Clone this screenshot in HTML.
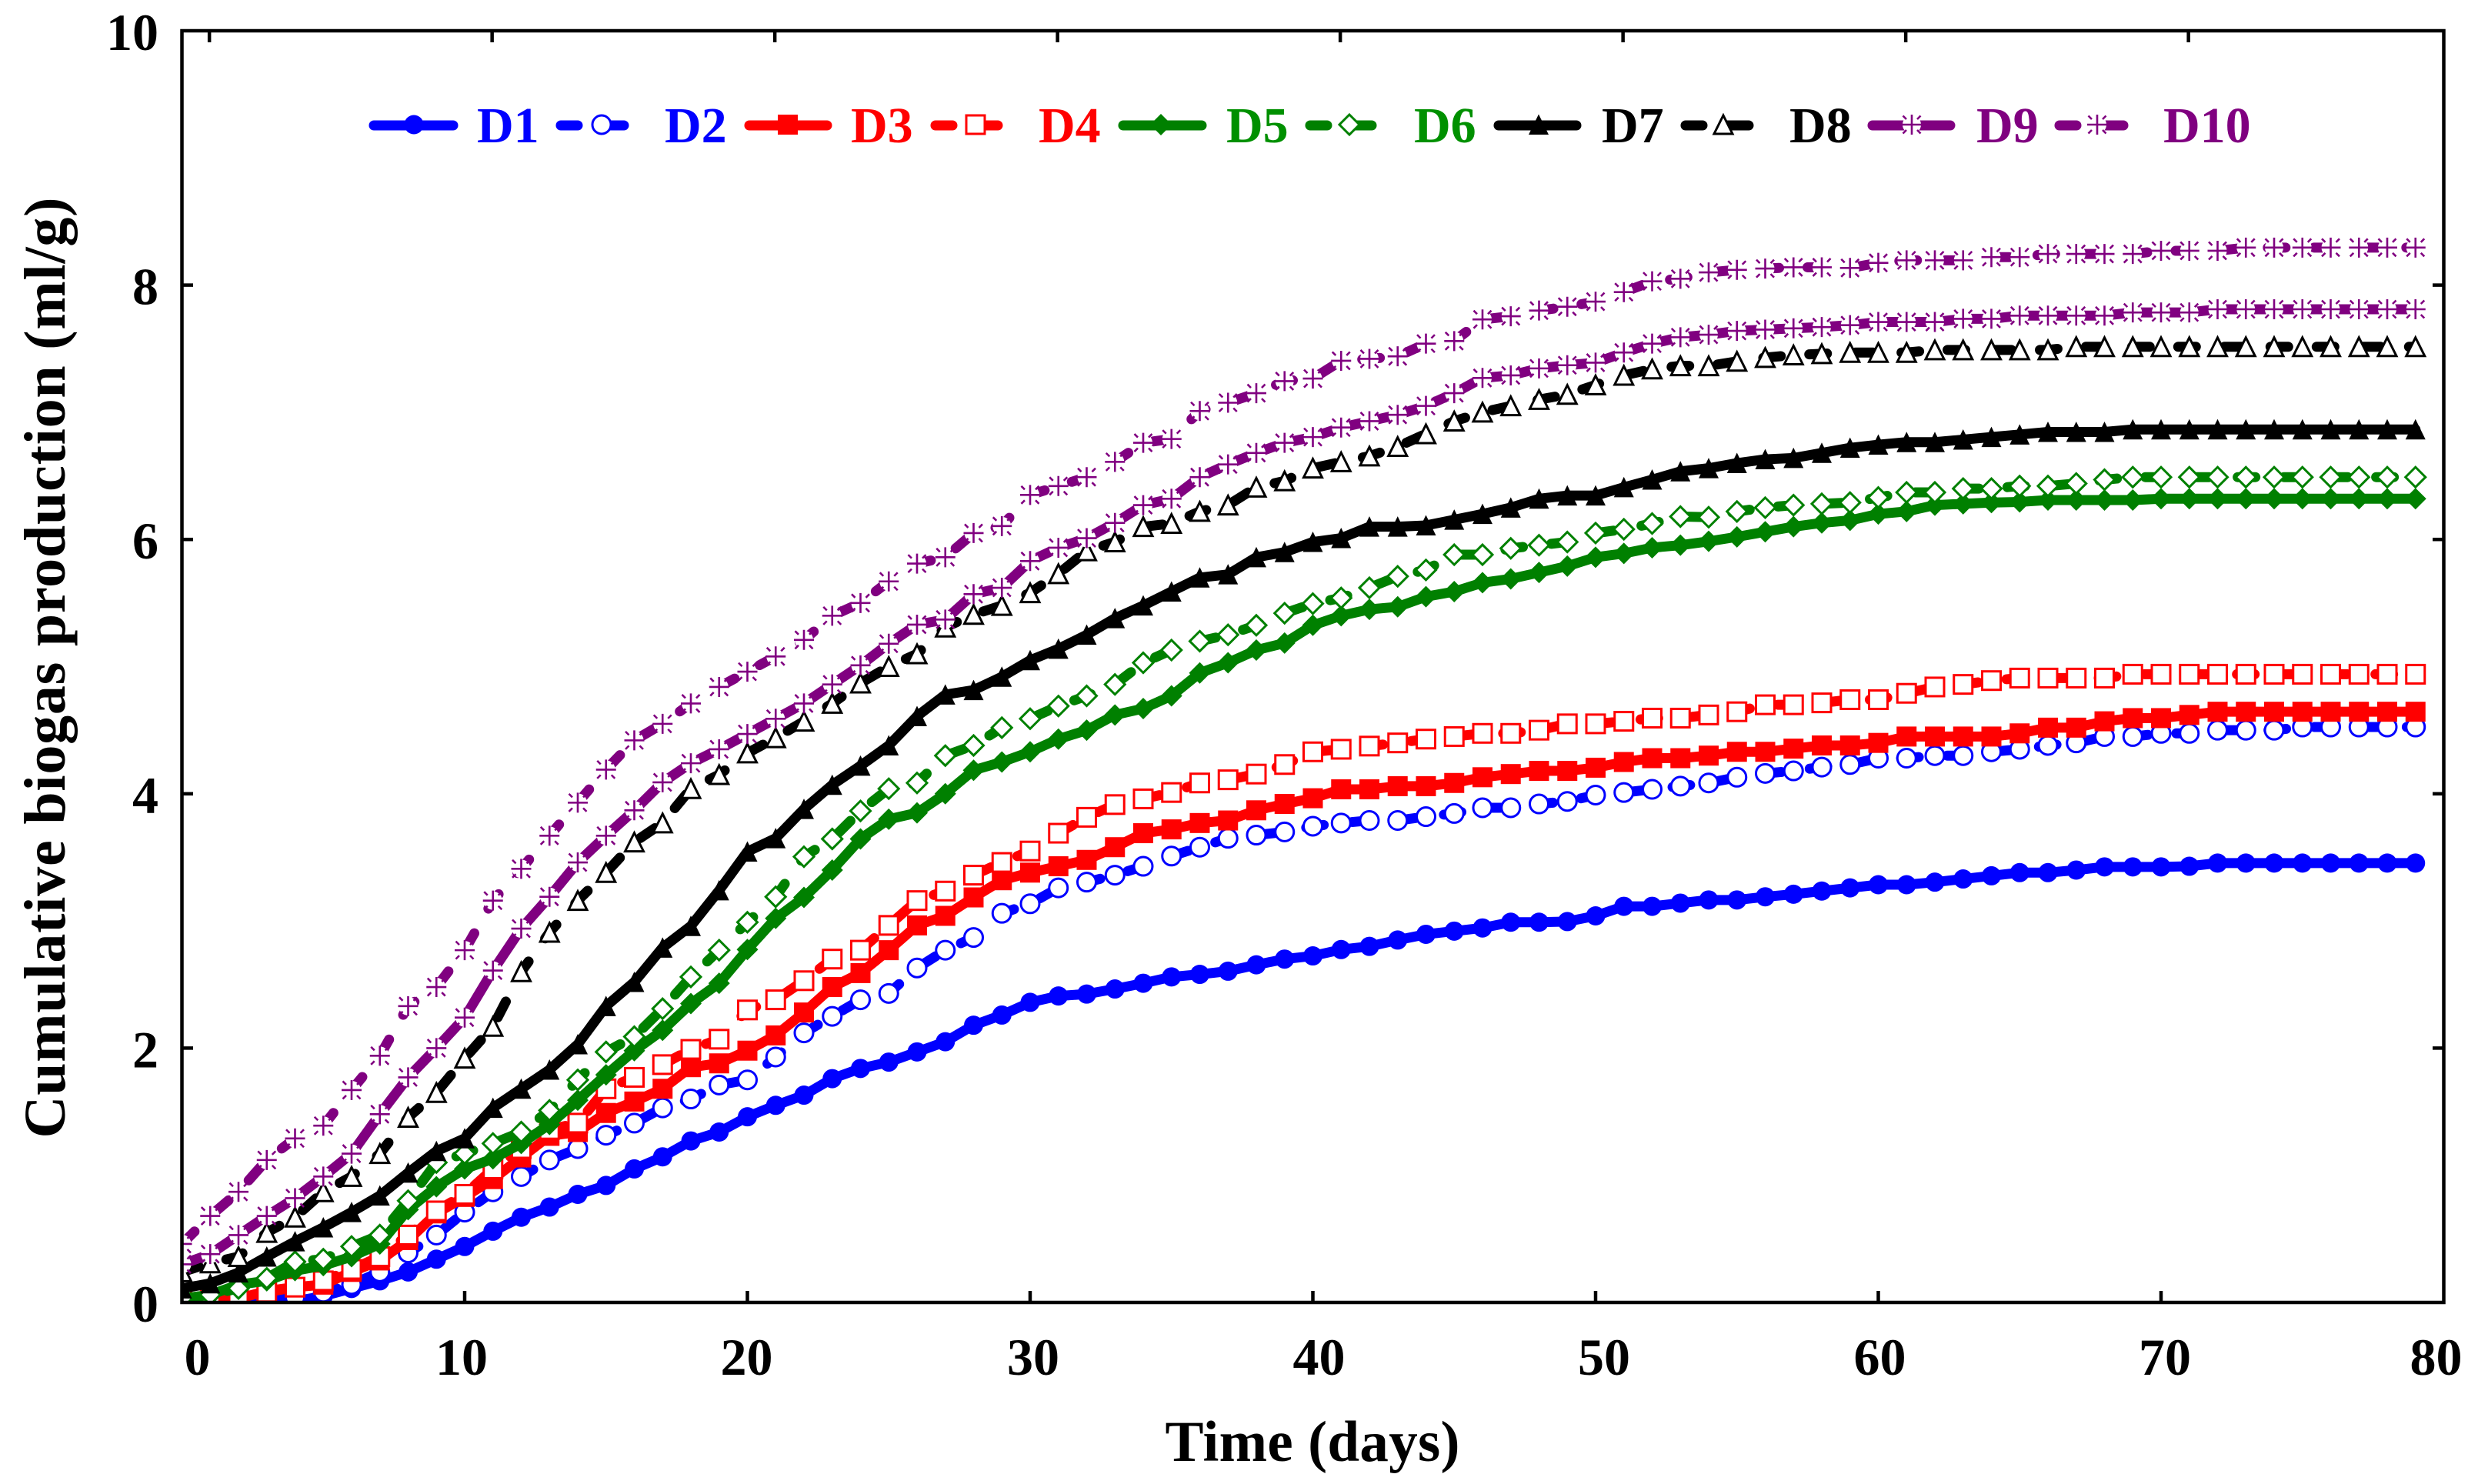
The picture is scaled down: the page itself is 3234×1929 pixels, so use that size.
<!DOCTYPE html>
<html lang="en">
<head>
<meta charset="utf-8">
<title>Cumulative biogas production</title>
<style>
html,body{margin:0;padding:0;background:#fff}
svg{display:block}
text{font-family:"Liberation Serif",serif;font-weight:bold}
</style>
</head>
<body>
<svg id="chart" xmlns="http://www.w3.org/2000/svg" width="3234" height="1929" viewBox="0 0 3234 1929">
<defs><clipPath id="plot-clip"><rect x="236" y="40" width="2941" height="1655"/></clipPath></defs>
<rect x="0" y="0" width="3234" height="1929" fill="#fff"/>
<g id="series-layer" clip-path="url(#plot-clip)"></g>
<g id="axes-layer"></g>
<g id="legend-layer"></g>
<text transform="translate(84,868) rotate(-90)" text-anchor="middle" font-size="76" textLength="1223" lengthAdjust="spacing" fill="#000">Cumulative biogas production (ml/g)</text>
<text x="1706" y="1899" text-anchor="middle" font-size="75" textLength="383" lengthAdjust="spacing" fill="#000">Time (days)</text>
</svg>
<script>
const days = [0,1,2,3,4,5,6,7,8,9,10,11,12,13,14,15,16,17,18,19,20,21,22,23,24,25,26,27,28,29,30,31,32,33,34,35,36,37,38,39,40,41,42,43,44,45,46,47,48,49,50,51,52,53,54,55,56,57,58,59,60,61,62,63,64,65,66,67,68,69,70,71,72,73,74,75,76,77,78,79];
const xTicks = [0,10,20,30,40,50,60,70,80];
const yTicks = [0,2,4,6,8,10];
const seriesNames = ["D1","D2","D3","D4","D5","D6","D7","D8","D9","D10"];
const d1 = [0,0,0,.005,.01,.05,.11,.17,.24,.34,
.44,.56,.67,.75,.85,.92,1.05,1.145,1.27,1.34,
1.46,1.55,1.63,1.76,1.84,1.89,1.97,2.05,2.18,2.26,
2.36,2.41,2.425,2.465,2.51,2.56,2.58,2.605,2.655,2.70,
2.725,2.775,2.80,2.85,2.895,2.92,2.945,2.99,2.99,2.995,
3.04,3.115,3.115,3.14,3.165,3.165,3.19,3.21,3.235,3.26,
3.285,3.285,3.305,3.33,3.355,3.38,3.38,3.40,3.425,3.425,
3.425,3.43,3.455,3.455,3.455,3.455,3.455,3.455,3.455,3.455];
const d2 = [0,0,.01,.02,.04,.08,.14,.24,.39,.53,
.71,.87,.99,1.12,1.21,1.315,1.41,1.53,1.60,1.71,
1.75,1.93,2.12,2.25,2.38,2.43,2.63,2.77,2.87,3.06,
3.135,3.26,3.305,3.36,3.43,3.51,3.58,3.65,3.675,3.70,
3.745,3.77,3.79,3.79,3.82,3.845,3.89,3.89,3.92,3.94,
3.99,4.01,4.035,4.06,4.085,4.13,4.16,4.18,4.21,4.23,
4.28,4.28,4.30,4.30,4.33,4.35,4.38,4.40,4.45,4.45,
4.475,4.475,4.50,4.50,4.50,4.525,4.525,4.525,4.525,4.525];
const d3 = [0,.01,.03,.09,.12,.14,.24,.33,.49,.70,
.83,.97,1.14,1.31,1.34,1.49,1.58,1.68,1.85,1.88,
1.98,2.10,2.28,2.48,2.59,2.77,2.965,3.04,3.185,3.32,
3.38,3.43,3.48,3.58,3.69,3.72,3.77,3.79,3.87,3.92,
3.965,4.035,4.035,4.06,4.06,4.085,4.13,4.155,4.18,4.18,
4.205,4.25,4.28,4.28,4.30,4.33,4.33,4.355,4.38,4.38,
4.40,4.45,4.45,4.45,4.45,4.475,4.52,4.52,4.57,4.595,
4.595,4.62,4.645,4.645,4.645,4.645,4.645,4.645,4.645,4.645];
const d4 = [.02,.03,.05,.08,.12,.17,.26,.36,.53,.72,
.85,1.05,1.21,1.36,1.41,1.68,1.77,1.87,1.99,2.07,
2.30,2.38,2.53,2.70,2.77,2.965,3.16,3.235,3.36,3.46,
3.55,3.69,3.815,3.915,3.96,4.01,4.085,4.11,4.155,4.23,
4.33,4.35,4.375,4.40,4.43,4.45,4.475,4.475,4.50,4.55,
4.55,4.57,4.595,4.595,4.62,4.645,4.70,4.70,4.715,4.74,
4.74,4.79,4.84,4.86,4.89,4.91,4.91,4.91,4.91,4.94,
4.94,4.94,4.94,4.94,4.94,4.94,4.94,4.94,4.94,4.94];
const d5 = [.03,.06,.14,.17,.25,.29,.36,.46,.73,.91,
1.05,1.13,1.25,1.40,1.59,1.79,1.98,2.14,2.35,2.51,
2.775,3.02,3.185,3.40,3.645,3.80,3.85,4.0,4.185,4.25,
4.33,4.43,4.50,4.62,4.67,4.77,4.95,5.03,5.13,5.185,
5.325,5.40,5.45,5.47,5.55,5.59,5.66,5.69,5.74,5.79,
5.86,5.89,5.935,5.955,5.985,6.02,6.06,6.10,6.13,6.15,
6.20,6.22,6.27,6.28,6.29,6.295,6.31,6.31,6.31,6.31,
6.32,6.32,6.32,6.32,6.32,6.32,6.32,6.32,6.32,6.32];
const d6 = [.03,.06,.11,.19,.32,.34,.44,.53,.80,1.10,
1.17,1.25,1.34,1.51,1.75,1.97,2.09,2.31,2.56,2.77,
2.99,3.19,3.505,3.645,3.865,4.04,4.085,4.30,4.38,4.52,
4.59,4.69,4.77,4.86,5.03,5.13,5.20,5.25,5.325,5.42,
5.495,5.54,5.62,5.71,5.76,5.88,5.88,5.93,5.955,5.98,
6.05,6.08,6.125,6.18,6.175,6.22,6.25,6.27,6.28,6.29,
6.33,6.37,6.37,6.40,6.40,6.42,6.42,6.44,6.47,6.49,
6.49,6.49,6.49,6.49,6.49,6.49,6.49,6.49,6.49,6.49];
const d7 = [.11,.15,.235,.36,.48,.59,.71,.84,1.02,1.19,
1.29,1.53,1.68,1.83,2.03,2.33,2.52,2.79,2.96,3.24,
3.545,3.65,3.88,4.07,4.22,4.38,4.61,4.78,4.815,4.92,
5.05,5.14,5.25,5.38,5.48,5.59,5.70,5.725,5.86,5.90,
5.98,6.01,6.10,6.10,6.11,6.155,6.20,6.25,6.32,6.345,
6.345,6.41,6.47,6.535,6.56,6.60,6.63,6.64,6.68,6.72,
6.745,6.765,6.765,6.785,6.805,6.825,6.845,6.845,6.845,6.865,
6.865,6.865,6.865,6.865,6.865,6.865,6.865,6.865,6.865,6.865];
const d8 = [.24,.31,.36,.55,.67,.87,.99,1.17,1.455,1.65,
1.92,2.17,2.60,2.91,3.16,3.38,3.62,3.77,4.04,4.15,
4.32,4.44,4.57,4.71,4.87,5.0,5.10,5.31,5.41,5.48,
5.58,5.73,5.91,5.98,6.10,6.125,6.22,6.27,6.41,6.46,
6.56,6.61,6.655,6.73,6.83,6.93,7.0,7.05,7.10,7.14,
7.215,7.29,7.34,7.365,7.365,7.40,7.43,7.45,7.46,7.47,
7.47,7.47,7.49,7.49,7.49,7.49,7.49,7.515,7.515,7.515,
7.515,7.515,7.515,7.515,7.515,7.515,7.515,7.515,7.515,7.515];
const d9 = [.30,.38,.53,.68,.82,.99,1.17,1.48,1.77,2.0,
2.24,2.61,2.94,3.19,3.46,3.67,3.87,4.09,4.24,4.35,
4.47,4.59,4.71,4.86,5.01,5.18,5.33,5.37,5.57,5.62,
5.83,5.935,6.01,6.13,6.27,6.32,6.49,6.59,6.68,6.76,
6.805,6.88,6.93,6.98,7.05,7.15,7.27,7.29,7.345,7.37,
7.39,7.47,7.54,7.59,7.61,7.64,7.65,7.66,7.67,7.685,
7.71,7.71,7.71,7.735,7.735,7.76,7.76,7.76,7.76,7.785,
7.785,7.785,7.81,7.81,7.81,7.81,7.81,7.81,7.81,7.81];
const d10 = [.46,.68,.87,1.12,1.29,1.39,1.67,1.94,2.33,2.48,
2.77,3.16,3.41,3.67,3.93,4.19,4.42,4.55,4.71,4.84,
4.96,5.08,5.21,5.40,5.50,5.67,5.81,5.86,6.05,6.105,
6.35,6.42,6.49,6.61,6.76,6.79,7.01,7.075,7.15,7.245,
7.265,7.405,7.42,7.44,7.54,7.56,7.73,7.755,7.80,7.83,
7.87,7.945,8.03,8.05,8.10,8.12,8.13,8.14,8.14,8.135,
8.175,8.195,8.195,8.195,8.22,8.22,8.245,8.245,8.245,8.245,
8.27,8.27,8.27,8.295,8.295,8.295,8.295,8.295,8.295,8.295];

const NS = 'http://www.w3.org/2000/svg';
const LINE_W = 13;
const DASH = '23 37';
const xScale = v => 236.5 + v * 36.75;
const yScale = v => 1693 - v * 165.3;

const styles = {
  D1:{color:'#0000ff',text:'#0000ff',shape:'circle',open:false,dash:false},
  D2:{color:'#0000ff',text:'#0000ff',shape:'circle',open:true,dash:true},
  D3:{color:'#ff0000',text:'#ff0000',shape:'square',open:false,dash:false},
  D4:{color:'#ff0000',text:'#ff0000',shape:'square',open:true,dash:true},
  D5:{color:'#008000',text:'#009000',shape:'diamond',open:false,dash:false},
  D6:{color:'#008000',text:'#009000',shape:'diamond',open:true,dash:true},
  D7:{color:'#000000',text:'#000000',shape:'triangle',open:false,dash:false},
  D8:{color:'#000000',text:'#000000',shape:'triangle',open:true,dash:true},
  D9:{color:'#800080',text:'#800080',shape:'star',open:true,dash:false},
  D10:{color:'#800080',text:'#800080',shape:'star',open:true,dash:true}
};
const seriesValues = {D1:d1,D2:d2,D3:d3,D4:d4,D5:d5,D6:d6,D7:d7,D8:d8,D9:d9,D10:d10};

function make(tag, attrs, parent) {
  const el = document.createElementNS(NS, tag);
  for (const k in attrs) el.setAttribute(k, attrs[k]);
  parent.appendChild(el);
  return el;
}

function drawMarker(parent, style, x, y, name) {
  const g = make('g', {}, parent);
  
  
  const c = style.color;
  const fill = style.open ? '#fff' : c;
  const sw = style.open ? 3 : 0;
  const stroke = style.open ? c : 'none';
  const common = {fill:fill, stroke:stroke, 'stroke-width':sw};
  if (style.shape === 'circle') {
    make('circle', Object.assign({cx:x, cy:y, r:style.open ? 12 : 12.5}, common), g);
  } else if (style.shape === 'square') {
    const h = style.open ? 12 : 13;
    make('rect', Object.assign({x:x-h, y:y-h, width:h*2, height:h*2}, common), g);
  } else if (style.shape === 'diamond') {
    const h = style.open ? 13 : 14;
    make('path', Object.assign({d:`M${x} ${y-h}L${x+h} ${y}L${x} ${y+h}L${x-h} ${y}Z`}, common), g);
  } else if (style.shape === 'triangle') {
    const w = style.open ? 12 : 13;
    const t = style.open ? 12 : 13.5;
    const b = style.open ? 12 : 13;
    make('path', Object.assign({d:`M${x} ${y-t}L${x+w} ${y+b}L${x-w} ${y+b}Z`}, common), g);
  } else {
    make('circle', {cx:x, cy:y, r:12, fill:'#fff'}, g);
    const d = `M${x-13} ${y}H${x+13}M${x} ${y-13}V${y+13}` +
      `M${x-11.5} ${y-11.5}L${x-7} ${y-7}M${x+11.5} ${y-11.5}L${x+7} ${y-7}` +
      `M${x-11.5} ${y+11.5}L${x-7} ${y+7}M${x+11.5} ${y+11.5}L${x+7} ${y+7}`;
    make('path', {d:d, fill:'none', stroke:c, 'stroke-width':2.6}, g);
  }
}

const seriesLayer = document.getElementById('series-layer');
seriesNames.forEach(name => {
  const st = styles[name];
  const values = seriesValues[name];
  const g = make('g', {}, seriesLayer);
  
  
  const pts = days.map((t, i) => xScale(t).toFixed(2) + ' ' + yScale(values[i]).toFixed(2));
  const attrs = {d:'M' + pts.join('L'), fill:'none', stroke:st.color, 'stroke-width':LINE_W, 'stroke-linecap':'round', 'stroke-linejoin':'round'};
  if (st.dash) attrs['stroke-dasharray'] = DASH;
  const line = make('path', attrs, g);
  
  
  days.forEach((t, i) => {
    drawMarker(g, st, xScale(t), yScale(values[i]), 'point-' + name.toLowerCase());
  });
});

const axes = document.getElementById('axes-layer');
const frame = make('rect', {x:236.5, y:40, width:2940, height:1653, fill:'none', stroke:'#000', 'stroke-width':4.5}, axes);



const xLabelDx = {0:20,10:-4,20:-1,30:4,40:8,50:11,60:2,70:5,80:-10};
const TOP_TICK_SHIFT = 0.97;
xTicks.forEach(v => {
  if (v > 0 && v < 80) {
    const tick = make('line', {x1:xScale(v), x2:xScale(v), y1:1693, y2:1678, stroke:'#000', 'stroke-width':4.5}, axes);
    
    
  }
  if (v < 80) {
    const tt = make('line', {x1:xScale(v + TOP_TICK_SHIFT), x2:xScale(v + TOP_TICK_SHIFT), y1:40, y2:55, stroke:'#000', 'stroke-width':4.5}, axes);
    
    
  }
  const label = make('text', {x:xScale(v) + xLabelDx[v], y:1787, 'text-anchor':'middle', 'font-size':68, fill:'#000'}, axes);
  
  
  label.textContent = v;
});
yTicks.forEach(v => {
  if (v > 0 && v < 10) {
    const l = make('line', {x1:236.5, x2:251, y1:yScale(v), y2:yScale(v), stroke:'#000', 'stroke-width':4.5}, axes);
    
    
    const r = make('line', {x1:3176.5, x2:3162, y1:yScale(v), y2:yScale(v), stroke:'#000', 'stroke-width':4.5}, axes);
    
    
  }
  const label = make('text', {x:206, y:yScale(v) + 25, 'text-anchor':'end', 'font-size':68, fill:'#000'}, axes);
  
  
  label.textContent = v;
});

const legendStart = {D1:486,D2:729,D3:974,D4:1216,D5:1460,D6:1703,D7:1948,D8:2191,D9:2434,D10:2677};
const legendEnd = {D1:589,D2:811,D3:1075,D4:1297,D5:1562,D6:1783,D7:2049,D8:2273,D9:2535,D10:2760};
const legendMarker = {D1:538,D2:782,D3:1024,D4:1268,D5:1509,D6:1754,D7:2000,D8:2240,D9:2485,D10:2726};
const legendText = {D1:620,D2:864,D3:1106,D4:1350,D5:1594,D6:1838,D7:2082,D8:2326,D9:2569,D10:2812};
const legendLayer = document.getElementById('legend-layer');
seriesNames.forEach(name => {
  const st = styles[name];
  const g = make('g', {}, legendLayer);
  
  
  const la = {x1:legendStart[name], x2:legendEnd[name], y1:163, y2:163, stroke:st.color, 'stroke-width':13, 'stroke-linecap':'round'};
  if (st.dash) la['stroke-dasharray'] = '22 32 40 100';
  make('line', la, g);
  drawMarker(g, st, legendMarker[name], 162, 'legend-marker-' + name.toLowerCase());
  const t = make('text', {x:legendText[name], y:185, 'font-size':66, fill:st.text}, g);
  
  
  t.textContent = name;
});
</script>
</body>
</html>
